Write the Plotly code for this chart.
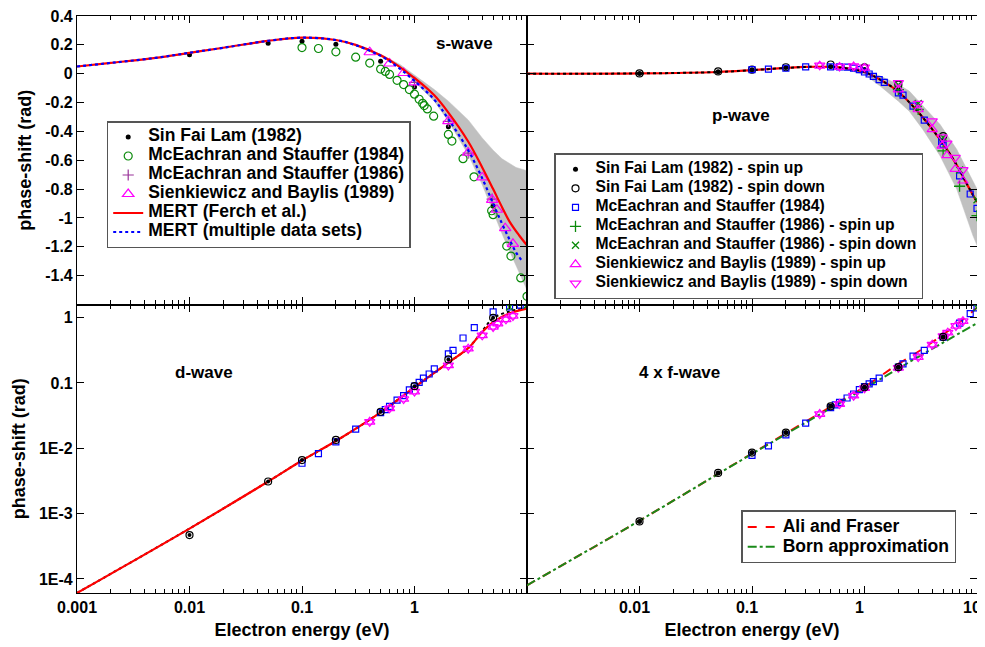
import plotly.graph_objects as go

FONT = "Liberation Sans, Arial, Helvetica, sans-serif"

# ---------------- s-wave ----------------
s_sfl_E = [0.01, 0.05, 0.1, 0.2, 0.5, 1.0, 2.0, 5.0]
s_sfl = [0.131, 0.212, 0.225, 0.205, 0.087, -0.092, -0.368, -0.917]

s_me84_E = [0.1, 0.14, 0.2, 0.3, 0.4, 0.5, 0.55, 0.6, 0.7, 0.8, 0.9, 1.0, 1.1, 1.18, 1.22,
            1.3, 1.48, 2.0, 2.15, 2.7, 3.38, 4.85, 5.0, 6.6, 7.2, 8.8, 10.0]
s_me84 = [0.181, 0.175, 0.152, 0.115, 0.074, 0.032, 0.016, -0.005, -0.046, -0.075, -0.110,
          -0.142, -0.177, -0.205, -0.221, -0.244, -0.294, -0.421, -0.467, -0.589, -0.715,
          -0.950, -0.977, -1.195, -1.264, -1.416, -1.543]

s_me86_E = [1.0, 2.0, 3.0, 4.9]
s_me86 = [-0.060, -0.330, -0.550, -0.870]

s_sb_E = [0.4, 0.6, 0.8, 1.0, 2.0, 3.0, 4.0, 4.9, 5.4, 6.4, 7.5]
s_sb = [0.149, 0.071, 0.005, -0.060, -0.329, -0.547, -0.719, -0.874, -0.943, -1.071, -1.179]

s_mert_E = [0.001, 0.002, 0.005, 0.01, 0.02, 0.05, 0.1, 0.2, 0.3, 0.5, 0.7, 1.0, 1.5, 2.0,
            3.0, 4.0, 5.0, 6.0, 7.0, 8.5, 10.0]
s_mert = [0.050, 0.075, 0.110, 0.145, 0.180, 0.228, 0.250, 0.234, 0.200, 0.128, 0.060, -0.030,
          -0.150, -0.270, -0.470, -0.650, -0.800, -0.925, -1.025, -1.120, -1.190]

s_multi_E = [0.001, 0.002, 0.005, 0.01, 0.02, 0.05, 0.1, 0.2, 0.3, 0.5, 0.7, 1.0, 1.5, 2.0,
             3.0, 4.0, 5.0, 6.0, 7.0, 8.0, 9.1]
s_multi = [0.050, 0.075, 0.110, 0.145, 0.180, 0.228, 0.250, 0.234, 0.198, 0.124, 0.050, -0.050,
           -0.180, -0.315, -0.530, -0.725, -0.900, -1.040, -1.150, -1.240, -1.300]

s_band_E = [0.3, 0.5, 0.75, 1.0, 1.5, 2.0, 3.0, 4.0, 5.0, 6.0, 7.0, 8.0, 10.0]
s_band_hi = [0.200, 0.135, 0.062, -0.010, -0.110, -0.190, -0.320, -0.445, -0.530, -0.590,
             -0.625, -0.650, -0.672]
s_band_lo = [0.195, 0.120, 0.040, -0.055, -0.190, -0.330, -0.560, -0.770, -0.960, -1.110,
             -1.230, -1.330, -1.500]

# ---------------- p-wave ----------------
p_line_E = [0.001, 0.01, 0.05, 0.1, 0.2, 0.3, 0.5, 0.7, 1.0, 1.5, 2.0, 3.0, 4.0, 5.0, 6.0,
            7.0, 8.0, 10.0]
p_line = [0.000, 0.002, 0.012, 0.025, 0.040, 0.047, 0.047, 0.037, 0.012, -0.058, -0.125,
          -0.265, -0.385, -0.485, -0.580, -0.668, -0.755, -0.890]

p_band_E = [0.3, 0.5, 0.7, 1.0, 1.4, 2.0, 2.5, 3.3, 4.7, 6.6, 9.2, 10.0]
p_band_hi = [0.050, 0.052, 0.045, 0.025, -0.018, -0.075, -0.120, -0.225, -0.352, -0.524,
             -0.740, -0.800]
p_band_lo = [0.046, 0.040, 0.025, -0.005, -0.090, -0.190, -0.260, -0.386, -0.570, -0.800,
             -1.122, -1.190]

p_sfl_E = [0.01, 0.05, 0.1, 0.2, 0.5, 1.0, 2.0, 5.0]
p_sfl_up = [0.001, 0.014, 0.027, 0.043, 0.050, 0.030, -0.110, -0.470]
p_sfl_dn = [0.002, 0.016, 0.028, 0.045, 0.064, 0.044, -0.076, -0.432]

p_me84_E = [0.1, 0.14, 0.2, 0.3, 0.5, 0.6, 0.7, 0.8, 0.9, 1.0, 1.1, 1.2, 1.35, 1.5, 2.0, 2.2,
            2.7, 3.4, 4.85, 5.0, 7.0, 8.7, 10.0]
p_me84 = [0.028, 0.032, 0.038, 0.048, 0.048, 0.048, 0.046, 0.039, 0.028, 0.012, -0.002,
          -0.018, -0.041, -0.060, -0.133, -0.149, -0.225, -0.322, -0.470, -0.490, -0.708,
          -0.834, -0.933]

p_me86_E = [2.0, 3.0, 5.0, 7.0, 10.0]
p_me86_up = [-0.110, -0.248, -0.535, -0.780, -0.984]
p_me86_dn = [-0.076, -0.207, -0.440, -0.667, -0.874]

p_sb_E = [0.4, 0.6, 0.8, 1.0, 2.0, 3.0, 4.0, 4.9, 5.4, 6.4, 7.5]
p_sb_up = [0.055, 0.046, 0.050, 0.040, -0.110, -0.248, -0.386, -0.500, -0.566, -0.662, -0.742]
p_sb_dn = [0.058, 0.050, 0.052, 0.045, -0.064, -0.207, -0.329, -0.440, -0.483, -0.582, -0.667]

# ---------------- d-wave ----------------
d_line_E = [0.001, 0.01, 0.05, 0.1, 0.2, 0.5, 1.0, 2.0, 3.0, 4.0, 5.0, 7.0, 10.0]
d_red = [6.1e-5, 5.9e-4, 3.1e-3, 6.5e-3, 0.0129, 0.0354, 0.0858, 0.205, 0.34, 0.60, 0.85,
         1.16, 1.37]
d_black = [6.1e-5, 5.9e-4, 3.1e-3, 6.5e-3, 0.0129, 0.0354, 0.0858, 0.205, 0.34, 0.62, 0.98,
           1.24, 1.40]

d_sfl_E = [0.01, 0.05, 0.1, 0.2, 0.5, 1.0, 2.0, 5.0]
d_sfl = [4.7e-4, 3.1e-3, 6.6e-3, 0.0134, 0.0362, 0.089, 0.229, 0.99]

d_me84_E = [0.1, 0.14, 0.2, 0.3, 0.5, 0.55, 0.6, 0.7, 0.8, 0.9, 1.0, 1.1, 1.2, 1.35, 1.5, 2.0,
            2.2, 2.7, 3.4, 5.0, 7.0, 8.7]
d_me84 = [5.9e-3, 8.3e-3, 0.0125, 0.0196, 0.035, 0.039, 0.0437, 0.0547, 0.0638, 0.078, 0.089,
          0.102, 0.118, 0.137, 0.164, 0.279, 0.314, 0.487, 0.70, 1.22, 1.46, 1.55]

d_me86_E = [7.0, 10.0]
d_me86 = [1.45, 1.55]

d_sb_E = [0.4, 0.6, 0.8, 1.0, 2.0, 3.0, 4.0, 5.0, 5.5, 6.5, 7.5]
d_sb = [0.0254, 0.0408, 0.0567, 0.0736, 0.185, 0.334, 0.535, 0.718, 0.81, 0.94, 1.06]

# ---------------- 4 x f-wave ----------------
f_born_E = [0.001, 0.01, 0.1, 1.0, 2.0, 5.0, 10.0]
f_born = [8.0e-5, 7.8e-4, 8.2e-3, 0.082, 0.166, 0.415, 0.82]

f_ali_E = [0.001, 0.01, 0.1, 0.5, 1.0, 2.0, 3.0, 5.0, 7.0, 10.0]
f_ali = [8.0e-5, 7.8e-4, 8.3e-3, 0.043, 0.087, 0.195, 0.30, 0.55, 0.85, 1.42]

f_sfl_E = [0.01, 0.05, 0.1, 0.2, 0.5, 1.0, 2.0, 5.0]
f_sfl = [7.6e-4, 4.2e-3, 8.6e-3, 0.0174, 0.0438, 0.0858, 0.174, 0.505]

f_me84_E = [0.1, 0.14, 0.2, 0.3, 0.5, 0.55, 0.6, 0.7, 0.8, 0.9, 1.0, 1.1, 1.2, 1.35, 2.0, 2.2,
            2.7, 3.4, 5.0, 7.0, 8.7, 10.0]
f_me84 = [7.8e-3, 0.0109, 0.016, 0.0243, 0.042, 0.046, 0.0505, 0.0588, 0.0677, 0.0789, 0.088,
          0.0966, 0.105, 0.118, 0.174, 0.196, 0.257, 0.314, 0.50, 0.82, 1.15, 1.41]

f_me86_E = [10.0]
f_me86 = [1.42]

f_sb_E = [0.4, 0.6, 0.8, 1.0, 2.0, 3.0, 4.0, 5.0, 5.5, 6.5, 7.5]
f_sb = [0.0334, 0.0475, 0.0638, 0.083, 0.17, 0.248, 0.385, 0.52, 0.588, 0.745, 0.88]

# ---------------- ticks ----------------
x_major = [0.001, 0.01, 0.1, 1, 10]
x_text_left = ["0.001", "0.01", "0.1", "1", ""]
x_text_right = ["", "0.01", "0.1", "1", "10"]
x_minor = [m * 10.0 ** d for d in range(-3, 1) for m in range(2, 10)]
y_top_vals = [0.4, 0.2, 0.0, -0.2, -0.4, -0.6, -0.8, -1.0, -1.2, -1.4]
y_top_text = ["0.4", "0.2", "0", "-0.2", "-0.4", "-0.6", "-0.8", "-1", "-1.2", "-1.4"]
y_bot_vals = [1e-4, 1e-3, 1e-2, 0.1, 1]
y_bot_text = ["1E-4", "1E-3", "1E-2", "0.1", "1"]

GREEN = "#0a8a0a"
MAG = "#ff00ff"
BLUE = "#0000ff"
PURPLE = "#993399"
GRAY = "rgb(192,192,192)"

fig = go.Figure()


def add(x, y, xa, ya, **kw):
    fig.add_trace(go.Scatter(x=x, y=y, xaxis=xa, yaxis=ya, **kw))


def lname(t, size):
    return '<span style="font-size:%.1fpx"><b>%s</b></span>' % (size, t)


L1 = 17.5
L2 = 15.7
L3 = 17.5

# ---- s-wave panel ----
add(s_band_E, s_band_lo, "x", "y", mode="lines", line=dict(color=GRAY, width=0.5),
    showlegend=False, hoverinfo="skip")
add(s_band_E, s_band_hi, "x", "y", mode="lines", line=dict(color=GRAY, width=0.5),
    fill="tonexty", fillcolor=GRAY, showlegend=False, hoverinfo="skip")
add(s_sfl_E, s_sfl, "x", "y", mode="markers", name=lname("Sin Fai Lam (1982)", L1),
    marker=dict(symbol="circle", size=5, color="black"), legend="legend")
add(s_me84_E, s_me84, "x", "y", mode="markers", name=lname("McEachran and Stauffer (1984)", L1),
    marker=dict(symbol="circle-open", size=8, color=GREEN, line=dict(width=1.2, color=GREEN)),
    legend="legend")
add(s_me86_E, s_me86, "x", "y", mode="markers", name=lname("McEachran and Stauffer (1986)", L1),
    marker=dict(symbol="cross-thin-open", size=8, color=PURPLE, line=dict(width=1.2, color=PURPLE)),
    legend="legend")
add(s_sb_E, s_sb, "x", "y", mode="markers", name=lname("Sienkiewicz and Baylis (1989)", L1),
    marker=dict(symbol="triangle-up-open", size=10, color=MAG, line=dict(width=1.2, color=MAG)),
    legend="legend")
add(s_mert_E, s_mert, "x", "y", mode="lines", name=lname("MERT (Ferch et al.)", L1),
    line=dict(color="red", width=2.2, shape="spline"), legend="legend")
add(s_multi_E, s_multi, "x", "y", mode="lines", name=lname("MERT (multiple data sets)", L1),
    line=dict(color=BLUE, width=2.2, dash="dot", shape="spline"), legend="legend")

# ---- p-wave panel ----
add(p_band_E, p_band_lo, "x2", "y2", mode="lines", line=dict(color=GRAY, width=0.5),
    showlegend=False, hoverinfo="skip")
add(p_band_E, p_band_hi, "x2", "y2", mode="lines", line=dict(color=GRAY, width=0.5),
    fill="tonexty", fillcolor=GRAY, showlegend=False, hoverinfo="skip")
add(p_line_E, p_line, "x2", "y2", mode="lines", line=dict(color="red", width=2.2, shape="spline"),
    showlegend=False)
add(p_line_E, p_line, "x2", "y2", mode="lines",
    line=dict(color="black", width=2, dash="dot", shape="spline"), showlegend=False)
add(p_sfl_E, p_sfl_up, "x2", "y2", mode="markers", name=lname("Sin Fai Lam (1982) - spin up", L2),
    marker=dict(symbol="circle", size=5, color="black"), legend="legend2")
add(p_sfl_E, p_sfl_dn, "x2", "y2", mode="markers", name=lname("Sin Fai Lam (1982) - spin down", L2),
    marker=dict(symbol="circle-open", size=7, color="black", line=dict(width=1.2, color="black")),
    legend="legend2")
add(p_me84_E, p_me84, "x2", "y2", mode="markers", name=lname("McEachran and Stauffer (1984)", L2),
    marker=dict(symbol="square-open", size=6, color=BLUE, line=dict(width=1.2, color=BLUE)),
    legend="legend2")
add(p_me86_E, p_me86_up, "x2", "y2", mode="markers",
    name=lname("McEachran and Stauffer (1986) - spin up", L2),
    marker=dict(symbol="cross-thin-open", size=8, color=GREEN, line=dict(width=1.3, color=GREEN)),
    legend="legend2")
add(p_me86_E, p_me86_dn, "x2", "y2", mode="markers",
    name=lname("McEachran and Stauffer (1986) - spin down", L2),
    marker=dict(symbol="x-thin-open", size=7, color=GREEN, line=dict(width=1.3, color=GREEN)),
    legend="legend2")
add(p_sb_E, p_sb_up, "x2", "y2", mode="markers",
    name=lname("Sienkiewicz and Baylis (1989) - spin up", L2),
    marker=dict(symbol="triangle-up-open", size=9, color=MAG, line=dict(width=1.2, color=MAG)),
    legend="legend2")
add(p_sb_E, p_sb_dn, "x2", "y2", mode="markers",
    name=lname("Sienkiewicz and Baylis (1989) - spin down", L2),
    marker=dict(symbol="triangle-down-open", size=9, color=MAG, line=dict(width=1.2, color=MAG)),
    legend="legend2")

# ---- d-wave panel ----
add(d_line_E, d_black, "x3", "y3", mode="lines",
    line=dict(color="black", width=2, dash="dot", shape="spline"), showlegend=False)
add(d_line_E, d_red, "x3", "y3", mode="lines", line=dict(color="red", width=2.2, shape="spline"),
    showlegend=False)
add(d_me84_E, d_me84, "x3", "y3", mode="markers", showlegend=False,
    marker=dict(symbol="square-open", size=6, color=BLUE, line=dict(width=1.2, color=BLUE)))
add(d_sb_E, d_sb, "x3", "y3", mode="markers", showlegend=False,
    marker=dict(symbol="triangle-up-open", size=9, color=MAG, line=dict(width=1.2, color=MAG)))
add(d_sb_E, d_sb, "x3", "y3", mode="markers", showlegend=False,
    marker=dict(symbol="triangle-down-open", size=9, color=MAG, line=dict(width=1.2, color=MAG)))
add(d_me86_E, d_me86, "x3", "y3", mode="markers", showlegend=False,
    marker=dict(symbol="x-thin-open", size=7, color=GREEN, line=dict(width=1.3, color=GREEN)))
add(d_sfl_E, d_sfl, "x3", "y3", mode="markers", showlegend=False,
    marker=dict(symbol="circle-open", size=7, color="black", line=dict(width=1.2, color="black")))
add(d_sfl_E, d_sfl, "x3", "y3", mode="markers", showlegend=False,
    marker=dict(symbol="circle", size=4, color="black"))

# ---- f-wave panel ----
add(f_ali_E, f_ali, "x4", "y4", mode="lines", name=lname("Ali and Fraser", L3),
    line=dict(color="red", width=2, dash="dash", shape="spline"), legend="legend3")
add(f_born_E, f_born, "x4", "y4", mode="lines", name=lname("Born approximation", L3),
    line=dict(color="#1a8a1a", width=2, dash="dashdot", shape="spline"), legend="legend3")
add(f_me84_E, f_me84, "x4", "y4", mode="markers", showlegend=False,
    marker=dict(symbol="square-open", size=6, color=BLUE, line=dict(width=1.2, color=BLUE)))
add(f_sb_E, f_sb, "x4", "y4", mode="markers", showlegend=False,
    marker=dict(symbol="triangle-up-open", size=9, color=MAG, line=dict(width=1.2, color=MAG)))
add(f_sb_E, f_sb, "x4", "y4", mode="markers", showlegend=False,
    marker=dict(symbol="triangle-down-open", size=9, color=MAG, line=dict(width=1.2, color=MAG)))
add(f_me86_E, f_me86, "x4", "y4", mode="markers", showlegend=False,
    marker=dict(symbol="x-thin-open", size=7, color=GREEN, line=dict(width=1.3, color=GREEN)))
add(f_sfl_E, f_sfl, "x4", "y4", mode="markers", showlegend=False,
    marker=dict(symbol="circle-open", size=7, color="black", line=dict(width=1.2, color="black")))
add(f_sfl_E, f_sfl, "x4", "y4", mode="markers", showlegend=False,
    marker=dict(symbol="circle", size=5, color="black"))

# ---------------- axes ----------------
tickfont = dict(family=FONT, size=16, color="black", weight="bold")
titlefont = dict(family=FONT, size=18, color="black", weight="bold")
common = dict(showline=True, linecolor="black", linewidth=1.1, mirror="allticks",
              ticks="inside", ticklen=7, tickwidth=1, tickcolor="black",
              showgrid=False, zeroline=False, tickfont=tickfont,
              automargin=False, ticklabeloverflow="allow")
xminor = dict(tickmode="array", tickvals=x_minor, ticks="inside", ticklen=4, tickwidth=1,
              tickcolor="black", showgrid=False)


def xax(domain, anchor, text, title, shift=0):
    d = dict(common, type="log", range=[-3, 1], domain=domain, anchor=anchor,
             tickmode="array", tickvals=x_major, minor=xminor)
    if text is None:
        d["showticklabels"] = False
    else:
        d["ticktext"] = ["<b>%s</b>" % t if t else "" for t in text]
        d["title"] = dict(text="<b>%s</b>" % title, font=titlefont, standoff=8)
        if shift:
            d["ticklabelshift"] = shift
    return d


def yax(domain, anchor, log, labels):
    if log:
        d = dict(common, type="log", range=[-4.215, 0.2], tickmode="array", tickvals=y_bot_vals,
                 ticktext=["<b>%s</b>" % t for t in y_bot_text])
    else:
        d = dict(common, range=[-1.6, 0.4002], tickmode="array", tickvals=y_top_vals,
                 ticktext=["<b>%s</b>" % t for t in y_top_text])
    d.update(domain=domain, anchor=anchor)
    if labels:
        d["title"] = dict(text="<b>phase-shift (rad)</b>", font=titlefont, standoff=8)
    else:
        d["showticklabels"] = False
    return d


legend_common = dict(bgcolor="white", bordercolor="#555555", borderwidth=1.5,
                     xanchor="left", yanchor="top", tracegroupgap=0, itemwidth=30,
                     traceorder="normal", valign="middle")

# The page body adds an 8 px offset, so the figure is 8 px smaller than the window.
fig.update_layout(
    width=977, height=639,
    margin=dict(l=69, r=8, t=8, b=54, autoexpand=False),
    paper_bgcolor="white", plot_bgcolor="white",
    font=dict(family=FONT, color="black"),
    xaxis=xax([0, 0.5], "y", None, None),
    xaxis2=xax([0.5, 1], "y2", None, None),
    xaxis3=xax([0, 0.5], "y3", x_text_left, "Electron energy (eV)"),
    xaxis4=xax([0.5, 1], "y4", x_text_right, "Electron energy (eV)", shift=-5),
    yaxis=yax([0.5, 1], "x", False, True),
    yaxis2=yax([0.5, 1], "x2", False, False),
    yaxis3=yax([0, 0.5], "x3", True, True),
    yaxis4=yax([0, 0.5], "x4", True, False),
    legend=dict(legend_common, x=0.033, y=0.818, font=dict(family=FONT, size=10, color="black")),
    legend2=dict(legend_common, x=0.530, y=0.762, font=dict(family=FONT, size=10, color="black")),
    legend3=dict(legend_common, x=0.738, y=0.143, font=dict(family=FONT, size=13, color="black")),
    showlegend=True,
)

ann_font = dict(family=FONT, size=17, color="black")
for txt, x, y in [("s-wave", 0.4306, 0.9515), ("p-wave", 0.7378, 0.8267),
                  ("d-wave", 0.1411, 0.383), ("4 x f-wave", 0.6694, 0.383)]:
    fig.add_annotation(text="<b>%s</b>" % txt, x=x, y=y, xref="paper", yref="paper",
                       showarrow=False, font=ann_font, xanchor="center", yanchor="middle")

fig.write_html("out.html")
